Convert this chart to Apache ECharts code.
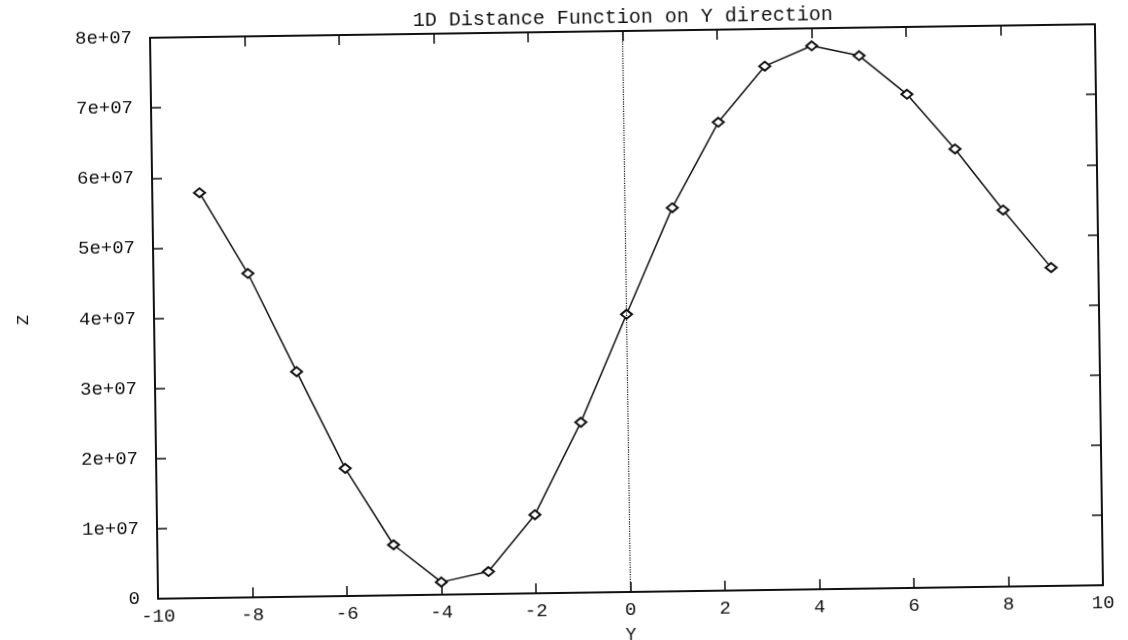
<!DOCTYPE html>
<html>
<head>
<meta charset="utf-8">
<title>1D Distance Function on Y direction</title>
<script src="https://cdn.jsdelivr.net/npm/echarts@6/dist/echarts.min.js"></script>
<style>
  html, body { margin: 0; padding: 0; background: #fff; }
  /* the source is a slightly tilted scan, so tilt the whole chart a little */
  #chart { width: 1128px; height: 640px; transform: rotate(-0.82deg); transform-origin: 626px 312px; }
</style>
</head>
<body>
<div id="chart"></div>
<script>
// Y positions (x axis) and Z values
const yPositions = [-9, -8, -7, -6, -5, -4, -3, -2, -1, 0, 1, 2, 3, 4, 5, 6, 7, 8, 9]
const zValues = [
  5.78e7, 4.62e7, 3.21e7, 1.82e7, 0.72e7, 0.18e7, 0.32e7, 1.12e7, 2.43e7, 3.96e7,
  5.47e7, 6.68e7, 7.47e7, 7.75e7, 7.60e7, 7.04e7, 6.25e7, 5.37e7, 4.54e7
]
const xTicks = [-10, -8, -6, -4, -2, 0, 2, 4, 6, 8, 10]
const zTicks = [0, 1e7, 2e7, 3e7, 4e7, 5e7, 6e7, 7e7, 8e7]

const font = 'Liberation Mono'
const ink = '#111'

function sciLabel(value) {
  if (value === 0) return '0'
  const exp = Math.floor(Math.log10(Math.abs(value)))
  const mant = Math.round(value / Math.pow(10, exp))
  return mant + 'e+' + String(exp).padStart(2, '0')
}

const chart = echarts.init(document.getElementById('chart'), null, { renderer: 'canvas' })

const frameAxis = {
  axisLine: { show: true, onZero: false, lineStyle: { color: ink, width: 2 } },
  axisTick: { show: true, inside: true, length: 10, lineStyle: { color: ink, width: 1.5 } },
  splitLine: { show: false }
}

chart.setOption({
  animation: false,
  backgroundColor: '#fff',
  title: {
    text: '1D Distance Function on Y direction',
    left: 412,
    top: 3,
    textStyle: { fontFamily: font, fontSize: 20, fontWeight: 'normal', color: ink }
  },
  grid: { left: 154, right: 29, top: 31, bottom: 48, outerBoundsMode: 'none', containLabel: false },
  xAxis: [
    Object.assign({
      type: 'value',
      min: xTicks[0],
      max: xTicks[xTicks.length - 1],
      interval: 2,
      position: 'bottom',
      name: 'Y',
      nameLocation: 'middle',
      nameGap: 34,
      nameTextStyle: { fontFamily: font, fontSize: 18, color: ink },
      axisLabel: { fontFamily: font, fontSize: 19, color: ink, margin: 8 }
    }, frameAxis),
    Object.assign({
      type: 'value',
      min: xTicks[0],
      max: xTicks[xTicks.length - 1],
      interval: 2,
      position: 'top',
      axisLabel: { show: false }
    }, frameAxis)
  ],
  yAxis: [
    Object.assign({
      type: 'value',
      min: zTicks[0],
      max: zTicks[zTicks.length - 1],
      interval: 1e7,
      position: 'left',
      name: 'Z',
      nameLocation: 'middle',
      nameRotate: 90,
      nameGap: 122,
      nameTextStyle: { fontFamily: font, fontSize: 17, color: ink },
      axisLabel: { fontFamily: font, fontSize: 19, color: ink, margin: 18, formatter: sciLabel }
    }, frameAxis),
    Object.assign({
      type: 'value',
      min: zTicks[0],
      max: zTicks[zTicks.length - 1],
      interval: 1e7,
      position: 'right',
      axisLabel: { show: false }
    }, frameAxis)
  ],
  series: [{
    type: 'line',
    data: yPositions.map((y, i) => [y, zValues[i]]),
    symbol: 'diamond',
    symbolSize: [11, 9],
    showAllSymbol: true,
    lineStyle: { color: ink, width: 1.5 },
    itemStyle: { color: '#fff', borderColor: ink, borderWidth: 2 },
    markLine: {
      silent: true,
      symbol: ['none', 'none'],
      label: { show: false },
      lineStyle: { type: 'dotted', color: ink, width: 1.2 },
      data: [{ xAxis: 0 }]
    }
  }]
})
</script>
</body>
</html>
